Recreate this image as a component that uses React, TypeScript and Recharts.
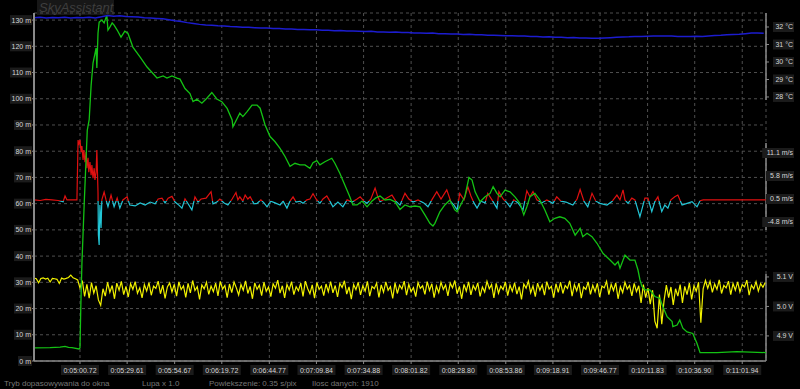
import React from 'react';
import { LineChart, Line, XAxis, YAxis, CartesianGrid, ReferenceLine } from 'recharts';

// ilosc danych: 1910 próbek na osi X
const SAMPLES = 1910;

const TIME_TICKS = [120, 243, 367, 490, 614, 737, 860, 984, 1107, 1231, 1354, 1477, 1601, 1724, 1848];
const TIME_LABELS = [
  '0:05:00.72', '0:05:29.61', '0:05:54.67', '0:06:19.72', '0:06:44.77', '0:07:09.84', '0:07:34.88',
  '0:08:01.82', '0:08:28.80', '0:08:53.86', '0:09:18.91', '0:09:46.77', '0:10:11.83', '0:10:36.90',
  '0:11:01.94',
];

const ALT_TICKS = [0, 10, 20, 30, 40, 50, 60, 70, 80, 90, 100, 110, 120, 130];
const TEMP_TICKS = [28, 29, 30, 31, 32];
const SPEED_TICKS = [11.1, 5.8, 0.5, -4.8];
const VOLT_TICKS = [5.1, 5.0, 4.9];

// wysokość [próbka, m]
const ALTITUDE: [number, number][] = [
  [0, 5.0], [42, 5.1], [68, 5.3], [81, 5.6], [90, 5.2], [99, 5.1], [117, 4.6],
  [120, 5.0], [122, 20], [125, 37], [131, 60], [139, 88], [144, 92], [149, 105],
  [154, 113.6], [162, 119.3], [164, 111.7], [167, 125], [170, 129.2], [177, 130],
  [183, 128.9], [190, 131.9], [193, 126.2], [198, 127.3], [204, 128.9], [209, 128.1],
  [217, 126.2], [227, 123.5], [237, 125.8], [245, 125.0], [258, 119.7], [277, 115.9],
  [295, 112.1], [321, 107.9], [337, 108.7], [347, 107.9], [360, 108.7], [373, 107.9],
  [381, 107.5], [394, 103.9], [407, 102.0], [415, 98.9], [425, 99.8], [438, 98.3],
  [451, 100.2], [464, 102.4], [477, 99.9], [490, 98.9], [504, 96.3], [517, 91.9],
  [519, 89.3], [530, 92.5], [537, 94.5], [545, 93.2], [556, 95.1], [569, 97.6],
  [582, 97.6], [590, 96.4], [603, 90.0], [616, 85.6], [629, 83.6], [642, 81.1],
  [655, 78.0], [668, 74.2], [681, 75.4], [694, 74.8], [707, 74.8], [720, 73.5],
  [728, 75.6], [738, 76.4], [746, 74.8], [759, 76.0], [777, 77.3], [785, 75.4],
  [798, 71.6], [811, 67.1], [824, 62.6], [832, 59.5], [843, 59.5], [856, 61.0],
  [869, 58.8], [882, 61.0], [892, 62.2], [903, 62.9], [916, 61.4], [929, 61.6],
  [942, 60.7], [955, 57.8], [968, 59.5], [981, 58.8], [994, 59.1], [1007, 58.8],
  [1020, 55.7], [1033, 52.5], [1041, 51.5], [1046, 52.5], [1059, 56.9], [1072, 59.5],
  [1085, 61.4], [1098, 57.6], [1104, 56.9], [1111, 58.8], [1124, 62.6], [1135, 70.0],
  [1143, 69.0], [1151, 64.5], [1164, 60.7], [1177, 62.6], [1190, 63.9], [1198, 66.5],
  [1208, 63.9], [1216, 62.6], [1229, 65.2], [1242, 64.5], [1255, 62.6], [1268, 60.1],
  [1278, 55.7], [1286, 58.8], [1294, 62.6], [1307, 63.9], [1320, 61.4], [1333, 57.6],
  [1346, 53.1], [1359, 54.4], [1372, 55.0], [1385, 54.4], [1398, 52.5], [1412, 48.0],
  [1425, 50.6], [1432, 47.4], [1443, 48.7], [1456, 47.4], [1469, 44.9], [1485, 41.0],
  [1503, 38.5], [1516, 36.6], [1524, 37.9], [1529, 35.4], [1542, 40.4], [1555, 38.5],
  [1568, 38.5], [1576, 34.7], [1581, 31.0], [1586, 28.5], [1594, 27.1], [1607, 27.1],
  [1620, 24.6], [1633, 23.9], [1641, 20.7], [1652, 16.9], [1665, 15.0], [1667, 13.1],
  [1678, 13.7], [1685, 15.6], [1693, 12.5], [1704, 11.1], [1719, 10.5], [1730, 6.7],
  [1738, 3.2], [1782, 3.2], [1834, 3.6], [1910, 3.2],
];

// temperatura °C, co 16 próbek
const TEMP_STEP = 16;
const TEMPERATURE = [
  32.53, 32.55, 32.52, 32.54, 32.53, 32.56, 32.52, 32.54, 32.53, 32.55,
  32.52, 32.58, 32.66, 32.62, 32.64, 32.60, 32.59, 32.57, 32.53, 32.51,
  32.49, 32.47, 32.42, 32.36, 32.31, 32.25, 32.20, 32.15, 32.12, 32.10,
  32.07, 32.05, 32.03, 32.02, 31.99, 31.98, 31.96, 31.94, 31.94, 31.91,
  31.91, 31.88, 31.88, 31.86, 31.86, 31.84, 31.84, 31.81, 31.82, 31.79,
  31.80, 31.77, 31.77, 31.76, 31.74, 31.75, 31.72, 31.72, 31.70, 31.71,
  31.68, 31.68, 31.66, 31.66, 31.64, 31.65, 31.62, 31.62, 31.60, 31.60,
  31.57, 31.58, 31.55, 31.56, 31.53, 31.53, 31.52, 31.50, 31.50, 31.48,
  31.48, 31.45, 31.46, 31.43, 31.44, 31.41, 31.42, 31.39, 31.40, 31.37,
  31.37, 31.36, 31.35, 31.37, 31.39, 31.41, 31.43, 31.44, 31.46, 31.46,
  31.47, 31.48, 31.49, 31.48, 31.48, 31.46, 31.45, 31.46, 31.47, 31.46,
  31.49, 31.52, 31.53, 31.55, 31.57, 31.58, 31.62, 31.66, 31.65, 31.64,
];

// prędkość pionowa [próbka, m/s]
const SPEED: [number, number][] = [
  [0, 0.28], [16, 0.16], [31, 0.39], [47, 0.28], [63, 0.16], [76, -0.12], [81, 1.2], [86, 0.28],
  [99, 0.28], [112, 0.28], [115, 14.1], [117, 12.9], [120, 14.1], [123, 11.3], [125, 12.7],
  [128, 9.5], [130, 11.8], [133, 9.0], [136, 11.3], [138, 7.6], [141, 10.0], [143, 6.7],
  [146, 9.0], [149, 6.0], [151, 8.3], [154, 5.3], [157, 7.6], [159, 4.9], [162, 6.7],
  [164, 11.8], [167, 2.1], [168, -7.8], [170, -10.1], [172, -0.9], [175, -6.2], [177, 0.28],
  [183, 2.1], [188, 0.28], [193, -1.3], [201, 1.4], [209, -1.3], [217, 0.7], [224, -1.6],
  [232, 0.28], [243, 1.0], [250, -0.9], [264, -1.1], [277, -0.4], [290, -0.9], [303, -0.2],
  [316, -0.6], [324, 0.5], [334, 0.7], [342, -0.4], [350, 0.7], [360, 1.1], [368, -0.2],
  [378, -0.9], [386, -1.6], [394, 0.5], [402, -0.6], [412, -2.0], [420, 1.0], [428, -0.2],
  [436, 0.5], [449, 0.7], [462, 2.2], [467, -0.6], [477, -0.2], [485, 0.5], [496, -0.4],
  [506, -0.9], [517, 0.5], [527, 2.0], [532, 0.3], [537, 1.0], [545, 0.0], [551, 1.4],
  [558, 0.5], [564, 1.0], [574, -0.6], [582, -0.5], [592, 0.3], [600, -0.4], [608, -1.3],
  [618, 0.0], [629, -0.4], [642, -0.9], [650, 0.0], [660, -1.6], [668, 0.0], [676, 1.0],
  [684, -0.2], [694, 0.0], [702, -0.5], [712, 0.3], [720, 0.5], [728, 1.7], [736, 0.5],
  [746, -0.5], [754, 0.5], [764, 1.2], [772, 0.0], [780, -1.3], [793, -0.2], [806, -1.3],
  [817, 0.3], [830, -0.2], [843, 0.5], [851, 1.0], [861, 0.0], [869, -0.5], [879, 0.5],
  [890, 3.0], [897, 1.0], [903, -0.1], [916, 0.5], [934, 1.4], [944, 0.0], [955, -0.9],
  [968, 1.8], [978, 0.5], [989, -0.2], [1002, 0.3], [1017, -0.4], [1028, -1.3], [1038, 0.3],
  [1051, 2.2], [1062, 0.5], [1077, 2.6], [1088, -0.2], [1096, -0.9], [1104, -2.0], [1111, 1.8],
  [1122, 0.3], [1132, 3.3], [1140, 1.2], [1148, -0.4], [1156, -1.6], [1166, 0.0], [1177, -0.4],
  [1184, 1.8], [1195, 0.3], [1208, -1.6], [1213, 2.2], [1224, 0.5], [1234, -0.4], [1242, -1.3],
  [1252, 0.3], [1263, -0.4], [1276, -2.0], [1286, 2.4], [1294, 1.0], [1302, 2.2], [1312, 0.3],
  [1325, -0.4], [1338, 0.3], [1354, -0.5], [1364, 1.0], [1375, 0.0], [1388, -0.2], [1406, -0.9],
  [1417, 0.5], [1425, 2.7], [1435, 0.0], [1445, -1.3], [1456, 1.8], [1466, 0.0], [1477, -0.5],
  [1495, -0.9], [1508, -0.1], [1521, 1.4], [1529, 0.3], [1537, 2.6], [1542, 0.3], [1550, -0.5],
  [1560, 0.7], [1568, 0.3], [1581, -3.6], [1594, 0.7], [1602, 0.7], [1612, -2.4], [1620, -0.1],
  [1628, 1.0], [1638, -2.4], [1646, -0.9], [1654, -1.6], [1662, 0.3], [1672, 1.0], [1680, 1.4],
  [1691, -0.9], [1704, -0.5], [1717, -0.1], [1730, -1.3], [1738, 0.1], [1746, 0.28], [1910, 0.28],
];

// napięcie V, co 6 próbek
const VOLT_STEP = 6;
const VOLTAGE = [
  5.096, 5.094, 5.080, 5.095, 5.097, 5.093, 5.096, 5.083, 5.095, 5.094,
  5.092, 5.078, 5.096, 5.093, 5.095, 5.098, 5.106, 5.097, 5.094, 5.090,
  5.062, 5.088, 5.034, 5.075, 5.028, 5.081, 5.045, 5.070, 5.022, 5.004,
  5.060, 5.035, 5.082, 5.048, 5.071, 5.026, 5.079, 5.055, 5.085, 5.040,
  5.068, 5.032, 5.077, 5.058, 5.084, 5.045, 5.063, 5.029, 5.074, 5.052,
  5.081, 5.038, 5.069, 5.061, 5.086, 5.043, 5.072, 5.027, 5.066, 5.080,
  5.049, 5.075, 5.035, 5.083, 5.057, 5.070, 5.031, 5.078, 5.046, 5.088,
  5.054, 5.067, 5.024, 5.073, 5.060, 5.082, 5.041, 5.069, 5.050, 5.079,
  5.036, 5.085, 5.059, 5.071, 5.030, 5.076, 5.047, 5.083, 5.063, 5.039,
  5.074, 5.055, 5.087, 5.044, 5.068, 5.026, 5.080, 5.058, 5.072, 5.037,
  5.082, 5.051, 5.066, 5.033, 5.077, 5.062, 5.089, 5.045, 5.070, 5.029,
  5.075, 5.056, 5.084, 5.040, 5.067, 5.053, 5.079, 5.034, 5.086, 5.061,
  5.043, 5.073, 5.028, 5.081, 5.058, 5.069, 5.037, 5.076, 5.050, 5.084,
  5.046, 5.071, 5.032, 5.078, 5.064, 5.087, 5.042, 5.066, 5.025, 5.074,
  5.057, 5.082, 5.039, 5.070, 5.052, 5.085, 5.035, 5.068, 5.060, 5.079,
  5.031, 5.073, 5.048, 5.083, 5.055, 5.067, 5.027, 5.080, 5.044, 5.072,
  5.059, 5.086, 5.038, 5.075, 5.050, 5.064, 5.033, 5.081, 5.061, 5.070,
  5.041, 5.084, 5.054, 5.077, 5.030, 5.069, 5.047, 5.082, 5.058, 5.073,
  5.036, 5.079, 5.063, 5.088, 5.043, 5.068, 5.026, 5.075, 5.052, 5.083,
  5.039, 5.071, 5.056, 5.080, 5.034, 5.066, 5.049, 5.085, 5.060, 5.074,
  5.029, 5.078, 5.045, 5.069, 5.057, 5.083, 5.037, 5.072, 5.051, 5.080,
  5.042, 5.067, 5.024, 5.076, 5.062, 5.086, 5.046, 5.070, 5.033, 5.079,
  5.055, 5.073, 5.038, 5.084, 5.059, 5.068, 5.030, 5.077, 5.048, 5.082,
  5.044, 5.071, 5.061, 5.087, 5.035, 5.074, 5.053, 5.079, 5.028, 5.066,
  5.058, 5.083, 5.041, 5.072, 5.050, 5.078, 5.032, 5.069, 5.063, 5.085,
  5.040, 5.075, 5.054, 5.080, 5.026, 5.067, 5.047, 5.082, 5.059, 5.071,
  5.036, 5.078, 5.050, 5.070, 5.012, 5.074, 5.030, 5.062, 5.008, 5.055,
  4.950, 4.926, 5.040, 4.940, 5.020, 5.072, 5.030, 5.066, 5.005, 5.060,
  5.035, 5.074, 5.012, 5.068, 5.040, 5.079, 5.024, 5.070, 5.052, 5.082,
  4.945, 5.060, 5.088,
  5.062, 5.085, 5.048, 5.076, 5.058, 5.090, 5.044, 5.071, 5.063, 5.086,
  5.040, 5.078, 5.055, 5.083, 5.049, 5.074, 5.066, 5.089, 5.038, 5.072,
  5.060, 5.084, 5.052, 5.077, 5.065, 5.081,
];

const ALT_DOMAIN = [0, 132.7];
const TEMP_DOMAIN = [12.91, 32.8];
const SPEED_DOMAIN = [-36.83, 43.36];
const VOLT_DOMAIN = [4.815, 5.995];

const PLOT_TOP = 13;
const PLOT_BOTTOM = 361;
const RIGHT_LABEL_END = 793;
// osie po prawej leżą jedna na drugiej, więc prawie zerowa szerokość
const RIGHT_AXIS_W = 0.01;

const FONT = '"Liberation Sans", Arial, sans-serif';
const AXIS = '#8a8a8a';
const GRID = '#4f4f4f';
const LABEL = '#d6d6d6';
const LABEL_BG = '#1b1b1b';
const GREEN = '#14c214';
const BLUE = '#1c1ccf';
const YELLOW = '#f2f200';
const RED = '#e01010';
const CYAN = '#22c6d6';

const altData = ALTITUDE.map(([s, v]) => ({ s, v }));
const tempData = TEMPERATURE.map((v, i) => ({ s: i * TEMP_STEP, v }));
const speedData = SPEED.map(([s, v]) => ({ s, v }));
const voltData = VOLTAGE.map((v, i) => ({ s: i * VOLT_STEP, v }));

// gdzie 0 m/s wypada w pionie: powyżej czerwony, poniżej turkusowy
const zeroFrac = SPEED_DOMAIN[1] / (SPEED_DOMAIN[1] - SPEED_DOMAIN[0]);

const LeftTick = (props: any) => {
  const { x, y, payload } = props;
  const label = `${payload.value} m`;
  const w = label.length * 4 + 2;
  return (
    <g>
      <rect x={x - w + 1} y={y - 5} width={w} height={10} fill={LABEL_BG} />
      <text x={x} y={y} dy={2.5} textAnchor="end" fill={LABEL} fontSize={7} fontFamily={FONT}>
        {label}
      </text>
    </g>
  );
};

const rightTick = (fmt: (v: number) => string) => (props: any) => {
  const { y, payload } = props;
  const label = fmt(payload.value);
  const w = label.length * 3.6 + 3;
  return (
    <g>
      <rect x={RIGHT_LABEL_END - w + 1} y={y - 5} width={w} height={10} fill={LABEL_BG} />
      <text x={RIGHT_LABEL_END} y={y} dy={2.5} textAnchor="end" fill={LABEL} fontSize={7} fontFamily={FONT}>
        {label}
      </text>
    </g>
  );
};

const tempTick = rightTick((v) => `${v} °C`);
const speedTick = rightTick((v) => `${v} m/s`);
const voltTick = rightTick((v) => `${v.toFixed(1)} V`);

const TimeTick = (props: any) => {
  const { x, y, payload } = props;
  const label = TIME_LABELS[TIME_TICKS.indexOf(payload.value)] ?? '';
  return (
    <g>
      <rect x={x - 19} y={y - 1} width={38} height={10} fill={LABEL_BG} />
      <text x={x} y={y} dy={7} textAnchor="middle" fill={LABEL} fontSize={7} fontFamily={FONT}>
        {label}
      </text>
    </g>
  );
};

const statusStyle: React.CSSProperties = {
  position: 'absolute',
  top: 379,
  lineHeight: '10px',
  fontSize: 8,
  fontFamily: FONT,
  color: '#777',
  whiteSpace: 'nowrap',
};

export default function App() {
  return (
    <div style={{ position: 'absolute', left: 0, top: 0, width: 800, height: 389, background: '#000', overflow: 'hidden' }}>
      <div
        style={{
          position: 'absolute', left: 37, top: 0, width: 77, height: 15, background: '#171717',
          color: '#3e3e3e', fontFamily: FONT, fontStyle: 'italic', fontSize: 13, lineHeight: '15px', paddingLeft: 2,
          boxSizing: 'border-box',
        }}
      >
        SkyAssistant
      </div>

      <LineChart width={800} height={389} margin={{ top: PLOT_TOP, right: 34 - 3 * RIGHT_AXIS_W, bottom: 0, left: 0 }}>
        <defs>
          <linearGradient id="speedStroke" gradientUnits="userSpaceOnUse" x1="0" y1={PLOT_TOP} x2="0" y2={PLOT_BOTTOM}>
            <stop offset={zeroFrac} stopColor={RED} />
            <stop offset={zeroFrac} stopColor={CYAN} />
          </linearGradient>
        </defs>
        <CartesianGrid stroke={GRID} strokeDasharray="3 3" yAxisId="alt" />
        <XAxis
          dataKey="s"
          type="number"
          domain={[0, SAMPLES]}
          allowDataOverflow
          ticks={TIME_TICKS}
          interval={0}
          height={28}
          tickSize={3}
          tickMargin={2}
          tick={TimeTick}
          axisLine={{ stroke: AXIS, strokeWidth: 1.5 }}
          tickLine={{ stroke: AXIS }}
        />
        <YAxis
          yAxisId="alt"
          domain={ALT_DOMAIN}
          allowDataOverflow
          ticks={ALT_TICKS}
          interval={0}
          width={34}
          tickSize={2}
          tickMargin={1}
          tick={LeftTick}
          axisLine={{ stroke: AXIS, strokeWidth: 2 }}
          tickLine={{ stroke: AXIS }}
        />
        <YAxis
          yAxisId="temp"
          orientation="right"
          domain={TEMP_DOMAIN}
          allowDataOverflow
          ticks={TEMP_TICKS}
          interval={0}
          width={RIGHT_AXIS_W}
          tickSize={3}
          tick={tempTick}
          axisLine={false}
          tickLine={{ stroke: AXIS }}
        />
        <YAxis
          yAxisId="speed"
          orientation="right"
          domain={SPEED_DOMAIN}
          allowDataOverflow
          ticks={SPEED_TICKS}
          interval={0}
          width={RIGHT_AXIS_W}
          tickSize={3}
          tick={speedTick}
          axisLine={false}
          tickLine={{ stroke: AXIS }}
        />
        <YAxis
          yAxisId="volt"
          orientation="right"
          domain={VOLT_DOMAIN}
          allowDataOverflow
          ticks={VOLT_TICKS}
          interval={0}
          width={RIGHT_AXIS_W}
          tickSize={3}
          tick={voltTick}
          axisLine={false}
          tickLine={{ stroke: AXIS }}
        />

        <ReferenceLine yAxisId="temp" ifOverflow="visible" stroke={AXIS} strokeWidth={1.5}
          segment={[{ x: SAMPLES, y: TEMP_DOMAIN[1] }, { x: SAMPLES, y: 27.83 }]} />
        <ReferenceLine yAxisId="speed" ifOverflow="visible" stroke={AXIS} strokeWidth={1.5}
          segment={[{ x: SAMPLES, y: 13.4 }, { x: SAMPLES, y: -6.64 }]} />
        <ReferenceLine yAxisId="volt" ifOverflow="visible" stroke={AXIS} strokeWidth={1.5}
          segment={[{ x: SAMPLES, y: 5.11 }, { x: SAMPLES, y: VOLT_DOMAIN[0] }]} />

        <Line yAxisId="volt" data={voltData} dataKey="v" type="linear" stroke={YELLOW} strokeWidth={1.2}
          dot={false} activeDot={false} isAnimationActive={false} />
        <Line yAxisId="speed" data={speedData} dataKey="v" type="linear" stroke="url(#speedStroke)" strokeWidth={1.2}
          dot={false} activeDot={false} isAnimationActive={false} />
        <Line yAxisId="alt" data={altData} dataKey="v" type="linear" stroke={GREEN} strokeWidth={1.3}
          dot={false} activeDot={false} isAnimationActive={false} />
        <Line yAxisId="temp" data={tempData} dataKey="v" type="linear" stroke={BLUE} strokeWidth={1.5}
          dot={false} activeDot={false} isAnimationActive={false} />
      </LineChart>

      <span style={{ ...statusStyle, left: 4 }}>Tryb dopasowywania do okna</span>
      <span style={{ ...statusStyle, left: 142 }}>Lupa x 1.0</span>
      <span style={{ ...statusStyle, left: 209 }}>Powiekszenie: 0.35 s/pix</span>
      <span style={{ ...statusStyle, left: 312 }}>Ilosc danych: 1910</span>
    </div>
  );
}
